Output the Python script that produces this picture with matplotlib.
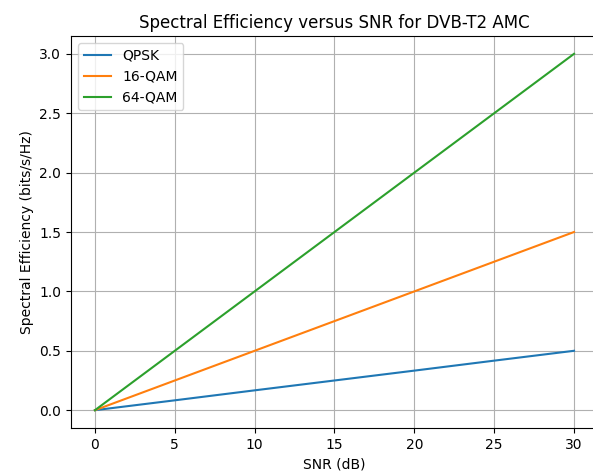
import matplotlib
matplotlib.use("Agg")
import matplotlib.pyplot as plt

snr_db = [0, 5, 10, 15, 20, 25, 30]
qpsk = [0.0, 0.083, 0.167, 0.25, 0.333, 0.417, 0.5]
qam16 = [0.0, 0.25, 0.5, 0.75, 1.0, 1.25, 1.5]
qam64 = [0.0, 0.5, 1.0, 1.5, 2.0, 2.5, 3.0]

fig = plt.figure(figsize=(5.93, 4.75), dpi=100)
ax = fig.add_axes([71/593, 47/475, 527/593, 392/475])
ax.plot(snr_db, qpsk, label="QPSK", color="#1f77b4")
ax.plot(snr_db, qam16, label="16-QAM", color="#ff7f0e")
ax.plot(snr_db, qam64, label="64-QAM", color="#2ca02c")
ax.set_xlim(-1.5, 31.5)
ax.set_ylim(-0.15, 3.15)
ax.set_xticks([0, 5, 10, 15, 20, 25, 30])
ax.set_yticks([0.0, 0.5, 1.0, 1.5, 2.0, 2.5, 3.0])
ax.set_xlabel("SNR (dB)")
ax.set_ylabel("Spectral Efficiency (bits/s/Hz)")
ax.set_title("Spectral Efficiency versus SNR for DVB-T2 AMC", fontsize=12)
ax.grid(True)
ax.legend(loc="upper left")
fig.savefig("out.png", dpi=100)
